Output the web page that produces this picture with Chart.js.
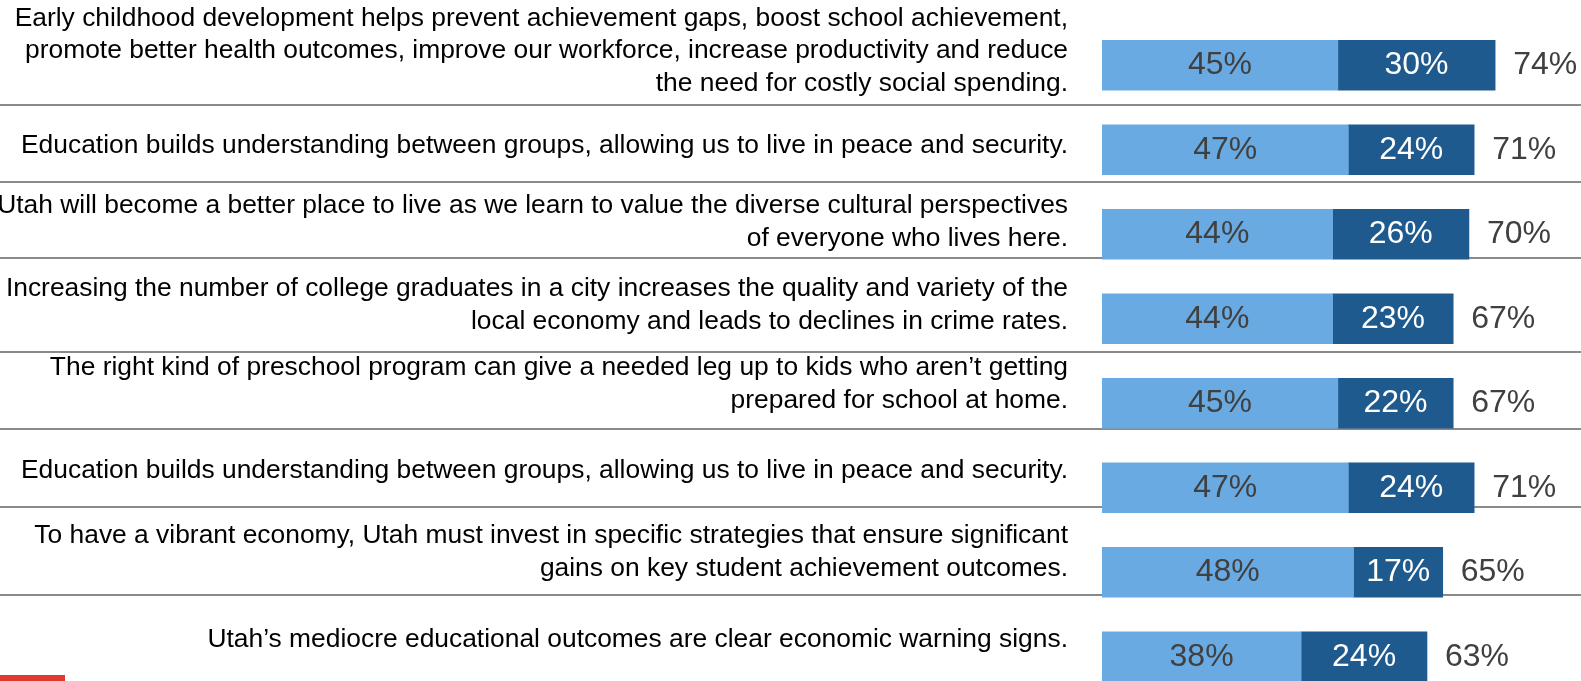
<!DOCTYPE html>
<html>
<head>
<meta charset="utf-8">
<script src="https://cdn.jsdelivr.net/npm/chart.js@4/dist/chart.umd.min.js"></script>
<style>
  html, body { margin: 0; padding: 0; background: #fff; overflow: hidden; }
  #wrap { position: relative; width: 1581px; height: 681px; overflow: hidden; }
  #redTab { position: absolute; left: 0; top: 675px; width: 65px; height: 6px; background: #e0392d; }
</style>
</head>
<body>
<div id="wrap">
  <canvas id="msgChart" width="1581" height="700"></canvas>
  <div id="redTab"></div>
</div>
<script>
// statements, one array of lines per row
const statements = [
  ["Early childhood development helps prevent achievement gaps, boost school achievement,",
   "promote better health outcomes, improve our workforce, increase productivity and reduce",
   "the need for costly social spending."],
  ["Education builds understanding between groups, allowing us to live in peace and security."],
  ["Utah will become a better place to live as we learn to value the diverse cultural perspectives",
   "of everyone who lives here."],
  ["Increasing the number of college graduates in a city increases the quality and variety of the",
   "local economy and leads to declines in crime rates."],
  ["The right kind of preschool program can give a needed leg up to kids who aren\u2019t getting",
   "prepared for school at home."],
  ["Education builds understanding between groups, allowing us to live in peace and security."],
  ["To have a vibrant economy, Utah must invest in specific strategies that ensure significant",
   "gains on key student achievement outcomes."],
  ["Utah\u2019s mediocre educational outcomes are clear economic warning signs."]
];
const somewhat = [45, 47, 44, 44, 45, 47, 48, 38];
const very = [30, 24, 26, 23, 22, 24, 17, 24];
const totals = [74, 71, 70, 67, 67, 71, 65, 63];

const LIGHT = '#6aaae2';
const DARK = '#1f5a8e';
const GREY_TEXT = '#404040';

// statement text, right aligned left of the bars
const statementLabels = {
  id: 'statementLabels',
  afterDraw(chart, args, opts) {
    const ctx = chart.ctx;
    const y = chart.scales.y;
    ctx.save();
    ctx.font = '26.4px "Liberation Sans", Arial, sans-serif';
    ctx.fillStyle = '#000';
    ctx.textAlign = 'right';
    ctx.textBaseline = 'alphabetic';
    statements.forEach((lines, i) => {
      const mid = y.getPixelForValue(i) + opts.shift[i];
      const first = mid - (lines.length - 1) * opts.lineHeight / 2;
      lines.forEach((t, k) => ctx.fillText(t, opts.x, first + k * opts.lineHeight));
    });
    ctx.restore();
  }
};

// grey rules between the rows
const rowRules = {
  id: 'rowRules',
  beforeDatasetsDraw(chart, args, opts) {
    const ctx = chart.ctx;
    const y = chart.scales.y;
    ctx.save();
    ctx.strokeStyle = '#8a8a8a';
    ctx.lineWidth = 2;
    opts.at.forEach(v => {
      const py = Math.round(y.getPixelForValue(v));
      ctx.beginPath();
      ctx.moveTo(0, py);
      ctx.lineTo(chart.width, py);
      ctx.stroke();
    });
    ctx.restore();
  }
};

// percentages inside segments and the net total after each bar
const valueLabels = {
  id: 'valueLabels',
  afterDatasetsDraw(chart) {
    const ctx = chart.ctx;
    const x = chart.scales.x;
    const y = chart.scales.y;
    ctx.save();
    ctx.font = '32px "Liberation Sans", Arial, sans-serif';
    ctx.textBaseline = 'middle';
    chart.data.datasets.forEach((ds, di) => {
      const meta = chart.getDatasetMeta(di);
      meta.data.forEach((bar, i) => {
        ctx.fillStyle = di === 0 ? GREY_TEXT : '#fff';
        ctx.textAlign = 'center';
        ctx.fillText(ds.data[i] + '%', (bar.base + bar.x) / 2, bar.y);
      });
    });
    ctx.fillStyle = GREY_TEXT;
    ctx.textAlign = 'left';
    totals.forEach((t, i) => {
      const end = x.getPixelForValue(somewhat[i] + very[i]);
      ctx.fillText(t + '%', end + 18, y.getPixelForValue(i));
    });
    ctx.restore();
  }
};

new Chart(document.getElementById('msgChart'), {
  type: 'bar',
  data: {
    labels: statements.map(s => s.join(' ')),
    datasets: [
      { label: 'Somewhat convincing', data: somewhat, backgroundColor: LIGHT, barThickness: 50 },
      { label: 'Very convincing', data: very, backgroundColor: DARK, barThickness: 50 }
    ]
  },
  options: {
    indexAxis: 'y',
    responsive: false,
    animation: false,
    devicePixelRatio: 1,
    layout: { padding: { left: 1102, right: 2, top: 23, bottom: 1 } },
    scales: {
      x: { stacked: true, min: 0, max: 91, display: false },
      y: { stacked: true, display: false }
    },
    plugins: {
      legend: { display: false },
      tooltip: { enabled: false },
      statementLabels: { x: 1068, lineHeight: 32.6, shift: [-7, 3, -5, -6, -12, -10, -13, -10] },
      rowRules: { at: [0.47, 1.382, 2.281, 3.393, 4.305, 5.228, 6.269] }
    }
  },
  plugins: [rowRules, valueLabels, statementLabels]
});
</script>
</body>
</html>
